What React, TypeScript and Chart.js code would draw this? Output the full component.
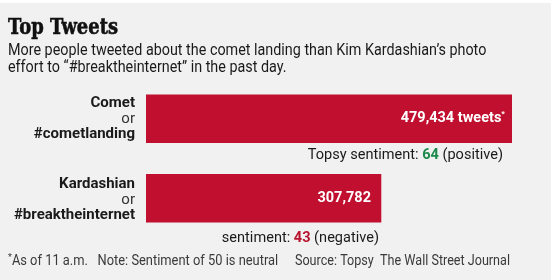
import React, { useEffect, useRef } from "react";
import { Chart, registerables } from "chart.js";

Chart.register(...registerables);

const titleText = "Top Tweets";
const subtitleLines = [
  "More people tweeted about the comet landing than Kim Kardashian\u2019s photo",
  "effort to \u201c#breaktheinternet\u201d in the past day.",
];
const categories = ["Comet", "Kardashian"];
const hashtags = ["#cometlanding", "#breaktheinternet"];
const tweetCounts = [479434, 307782];
const valueSuffixes = [" tweets", ""];
const valueFootnoteMarks = ["*", ""];
const sentimentPrefixes = ["Topsy sentiment: ", "sentiment: "];
const sentimentScores = [64, 43];
const sentimentLabels = ["positive", "negative"];
const footnoteLeft = ["*", "As of 11 a.m.   Note: Sentiment of 50 is neutral"];
const footnoteRight = "Source: Topsy  The Wall Street Journal";

const BAR_RED = "#c00f2f";
const GREEN = "#1b8a4b";
const NUM_RED = "#b8142e";
const TEXT = "#1a1a1a";
const SANS = "Roboto, 'Liberation Sans', sans-serif";

type Run = { text: string; font: string; color: string; squeeze?: number; raise?: number; stroke?: number };

function drawRuns(ctx: CanvasRenderingContext2D, runs: Run[], x: number, y: number, align: "left" | "right") {
  const widths = runs.map((r) => {
    ctx.font = r.font;
    return ctx.measureText(r.text).width * (r.squeeze ?? 1);
  });
  const total = widths.reduce((a, b) => a + b, 0);
  let cx = align === "left" ? x : x - total;
  ctx.textAlign = "left";
  runs.forEach((r, i) => {
    ctx.font = r.font;
    ctx.fillStyle = r.color;
    if (r.text.trim().length > 0) {
      const mw = Math.max(widths[i], 0.1);
      ctx.fillText(r.text, cx, y - (r.raise ?? 0), mw);
      if (r.stroke) {
        ctx.strokeStyle = r.color;
        ctx.lineWidth = r.stroke;
        ctx.strokeText(r.text, cx, y - (r.raise ?? 0), mw);
      }
    }
    cx += widths[i];
  });
}

const backgroundPlugin = {
  id: "panelBackground",
  beforeDraw(chart: Chart) {
    const ctx = chart.ctx;
    ctx.save();
    ctx.fillStyle = "#ffffff";
    ctx.fillRect(0, 0, chart.width, chart.height);
    ctx.fillStyle = "#f1f1f1";
    ctx.fillRect(0, 3, chart.width - 2, chart.height - 3);
    ctx.restore();
  },
};

const textPlugin = {
  id: "graphicText",
  afterDraw(chart: Chart) {
    const ctx = chart.ctx;
    const meta = chart.getDatasetMeta(0);
    ctx.save();
    ctx.textBaseline = "alphabetic";

    // Title & subtitle
    drawRuns(ctx, [{ text: titleText, font: "bold 23px 'DejaVu Serif'", color: "#111", squeeze: 0.78, stroke: 0.6 }], 8, 34, "left");
    subtitleLines.forEach((line, i) => {
      drawRuns(ctx, [{ text: line, font: `16.5px ${SANS}`, color: TEXT, squeeze: 0.87 }], 8, 55 + i * 17, "left");
    });

    const labelRight = chart.chartArea.left - 11;
    const sentimentInset = [9, 2];
    const sentimentGap = [16, 20];
    const valueInset = [7, 10];

    meta.data.forEach((bar: any, i: number) => {
      const cy = bar.y;
      const barBottom = bar.y + bar.height / 2;
      const barEnd = bar.x;

      // Category label block, vertically centred on the bar
      const lines: Run[] = [
        { text: categories[i], font: `bold 15px ${SANS}`, color: TEXT },
        { text: "or", font: `15px ${SANS}`, color: "#333" },
        { text: hashtags[i], font: `bold 15px ${SANS}`, color: TEXT },
      ];
      const lineGap = 15.5;
      ctx.font = lines[0].font;
      const asc = ctx.measureText(lines[0].text).actualBoundingBoxAscent;
      ctx.font = lines[2].font;
      const desc = ctx.measureText(lines[2].text).actualBoundingBoxDescent;
      const blockH = asc + lineGap * 2 + desc;
      const firstBase = cy - blockH / 2 + asc;
      lines.forEach((ln, k) => drawRuns(ctx, [ln], labelRight, firstBase + k * lineGap, "right"));

      // Value inside bar
      ctx.textBaseline = "middle";
      drawRuns(
        ctx,
        [
          { text: tweetCounts[i].toLocaleString("en-US") + valueSuffixes[i], font: `bold 14.5px ${SANS}`, color: "#fff" },
          { text: valueFootnoteMarks[i], font: `bold 8px ${SANS}`, color: "#fff", raise: 5 },
        ],
        barEnd - valueInset[i],
        cy,
        "right"
      );
      ctx.textBaseline = "alphabetic";

      // Sentiment line under bar
      drawRuns(
        ctx,
        [
          { text: sentimentPrefixes[i], font: `15px ${SANS}`, color: TEXT, squeeze: 0.97 },
          { text: String(sentimentScores[i]), font: `bold 15px ${SANS}`, color: i === 0 ? GREEN : NUM_RED, squeeze: 0.97 },
          { text: ` (${sentimentLabels[i]})`, font: `15px ${SANS}`, color: TEXT, squeeze: 0.97 },
        ],
        barEnd - sentimentInset[i],
        barBottom + sentimentGap[i],
        "right"
      );
    });

    // Footnote
    drawRuns(
      ctx,
      [
        { text: footnoteLeft[0], font: `9px ${SANS}`, color: "#3a3a3a", raise: 5 },
        { text: footnoteLeft[1], font: `14px ${SANS}`, color: "#3a3a3a", squeeze: 0.92 },
      ],
      8,
      265,
      "left"
    );
    drawRuns(ctx, [{ text: footnoteRight, font: `14px ${SANS}`, color: "#3a3a3a", squeeze: 0.9 }], 510, 265, "right");

    ctx.restore();
  },
};

export default function App() {
  const canvasRef = useRef<HTMLCanvasElement | null>(null);

  useEffect(() => {
    document.body.style.margin = "0";
    document.body.style.background = "#ffffff";
    if (!canvasRef.current) return;
    const chart = new Chart(canvasRef.current, {
      type: "bar",
      data: {
        labels: categories,
        datasets: [
          {
            data: tweetCounts,
            backgroundColor: BAR_RED,
            borderWidth: 0,
            barThickness: 48,
          },
        ],
      },
      options: {
        indexAxis: "y",
        animation: false,
        responsive: true,
        maintainAspectRatio: false,
        layout: { padding: { left: 146, right: 41, top: 79, bottom: 42 } },
        scales: {
          x: { display: false, min: 0, max: Math.max(...tweetCounts), grid: { display: false } },
          y: { display: false, grid: { display: false } },
        },
        plugins: {
          legend: { display: false },
          tooltip: { enabled: false },
          title: { display: false },
        },
      },
      plugins: [backgroundPlugin, textPlugin],
    });
    return () => chart.destroy();
  }, []);

  return (
    <div style={{ width: 553, height: 280, position: "relative" }}>
      <canvas ref={canvasRef} />
    </div>
  );
}
